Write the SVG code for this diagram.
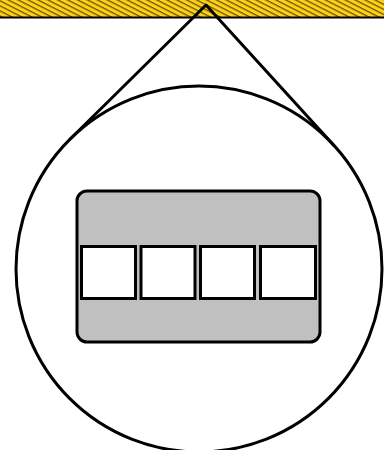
<svg xmlns="http://www.w3.org/2000/svg" width="384" height="450" viewBox="0 0 384 450">
<style>
.ln{fill:none;stroke:#000;stroke-width:3;stroke-linejoin:round}
.sq{fill:#fff;stroke:#000;stroke-width:3}
</style>
<defs>
<pattern id="hatch" patternUnits="userSpaceOnUse" width="8" height="4.5" patternTransform="rotate(27)">
<rect width="8" height="4.5" fill="#ffd21a"/>
<line x1="0" y1="0.7" x2="8" y2="0.7" stroke="#4a3c00" stroke-width="1.1"/>
</pattern>
</defs>
<g id="ceiling">
<rect x="0" y="0" width="384" height="17" fill="url(#hatch)"/>
<line x1="0" y1="17.5" x2="384" y2="17.5" stroke="#000" stroke-width="2"/>
</g>
<g id="connectors">
<polyline class="ln" points="70.5,138.7 206,5 334.2,145.7"/>
</g>
<g id="circle">
<circle class="ln" cx="199" cy="269" r="183"/>
</g>
<g id="panel">
<rect x="77" y="191" width="243" height="151" rx="10" ry="10" fill="#c0c0c0" stroke="#000" stroke-width="3"/>
</g>
<g id="cell1"><rect class="sq" x="81.5" y="246.5" width="54" height="52"/></g>
<g id="cell2"><rect class="sq" x="141" y="246.5" width="54" height="52"/></g>
<g id="cell3"><rect class="sq" x="200.5" y="246.5" width="54" height="52"/></g>
<g id="cell4"><rect class="sq" x="260.5" y="246.5" width="55" height="52"/></g>
</svg>
